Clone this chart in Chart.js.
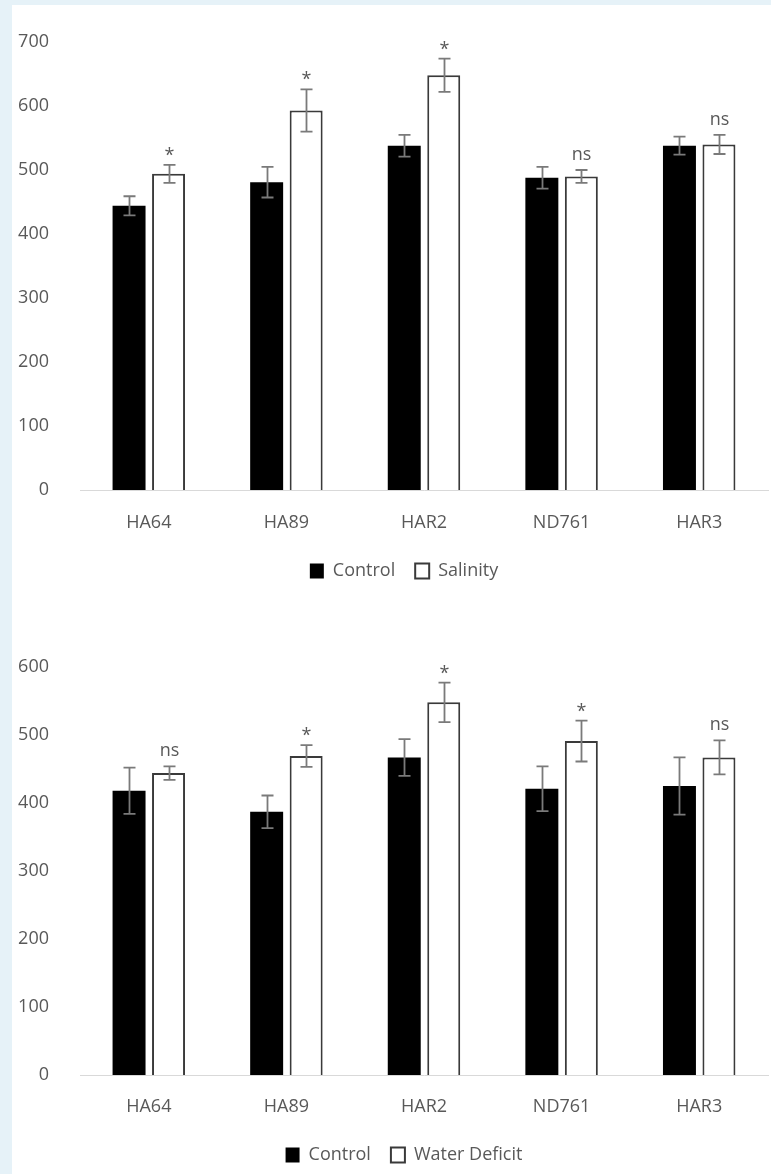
<!DOCTYPE html>
<html>
<head>
<meta charset="utf-8">
<script src="https://cdn.jsdelivr.net/npm/chart.js@4.4.0/dist/chart.umd.min.js"></script>
<style>
  html, body { margin: 0; padding: 0; background: #e6f2f8; }
  body { width: 771px; height: 1174px; position: relative; overflow: hidden; }
  #panel { position: absolute; left: 12px; top: 5px; width: 759px; height: 1169px; background: #ffffff; }
  .box { position: absolute; left: 12px; width: 759px; }
  #box1 { top: 5px; height: 585px; }
  #box2 { top: 595px; height: 579px; }
  canvas { display: block; }
</style>
</head>
<body>
<div id="panel"></div>
<div class="box" id="box1"><canvas id="chartSalinity" width="759" height="585"></canvas></div>
<div class="box" id="box2"><canvas id="chartDeficit" width="759" height="579"></canvas></div>
<script>
// Genotypes on the x axis
const categories = ['HA64', 'HA89', 'HAR2', 'ND761', 'HAR3'];

// Salinity experiment
const controlSalinity = [444, 481, 538, 488, 538];
const controlSalinityErr = [15, 24, 17, 17, 14];
const salinity = [494, 593, 648, 490, 540];
const salinityErr = [14, 33, 26, 10, 15];
const salinitySig = ['*', '*', '*', 'ns', 'ns'];

// Water deficit experiment
const controlDeficit = [418, 387, 467, 421, 425];
const controlDeficitErr = [34, 24, 27, 33, 42];
const waterDeficit = [444, 469, 548, 491, 467];
const waterDeficitErr = [10, 16, 29, 30, 25];
const waterDeficitSig = ['ns', '*', '*', '*', 'ns'];

// Value axes
const yMaxSalinity = 700;
const yMaxDeficit = 600;
const yStep = 100;

const FONT = "'Open Sans', 'Noto Sans', sans-serif";
const TEXT = '#595959';

// Draws +/- error whiskers and the significance mark above each bar
const errorBars = {
  id: 'errorBars',
  afterDatasetsDraw(chart, args, opts) {
    const ctx = chart.ctx;
    const yScale = chart.scales.y;
    chart.data.datasets.forEach((ds, di) => {
      if (!ds.errors) return;
      const meta = chart.getDatasetMeta(di);
      meta.data.forEach((bar, i) => {
        const v = ds.data[i];
        const e = ds.errors[i];
        const top = yScale.getPixelForValue(v + e);
        const bot = yScale.getPixelForValue(v - e);
        const x = Math.round(bar.x) + 0.5;
        ctx.save();
        ctx.strokeStyle = opts.color;
        ctx.lineWidth = opts.width;
        ctx.beginPath();
        ctx.moveTo(x, top); ctx.lineTo(x, bot);
        ctx.moveTo(x - opts.cap, top); ctx.lineTo(x + opts.cap, top);
        ctx.moveTo(x - opts.cap, bot); ctx.lineTo(x + opts.cap, bot);
        ctx.stroke();
        if (ds.marks && ds.marks[i]) {
          const mark = ds.marks[i];
          ctx.fillStyle = TEXT;
          ctx.font = '18px ' + FONT;
          ctx.textAlign = 'center';
          ctx.textBaseline = 'alphabetic';
          ctx.fillText(mark, x, top - (mark === '*' ? 4 : 10));
        }
        ctx.restore();
      });
    });
  }
};

// Nudges the legend row sideways
const legendShift = {
  id: 'legendShift',
  afterLayout(chart, args, opts) {
    const lg = chart.legend;
    if (lg) { lg.left += opts.dx; lg.right += opts.dx; }
  }
};

function makeChart(id, control, controlErr, treated, treatedErr, treatedSig, treatedName, yMax, padTop, xHeight, xPad) {
  return new Chart(document.getElementById(id), {
    type: 'bar',
    data: {
      labels: categories,
      datasets: [
        { label: 'Control', data: control, errors: controlErr,
          backgroundColor: '#000000', borderColor: '#000000', borderWidth: 0 },
        { label: treatedName, data: treated, errors: treatedErr, marks: treatedSig,
          backgroundColor: '#ffffff', borderColor: '#3a3a3a', borderWidth: 2 }
      ]
    },
    options: {
      responsive: false,
      animation: false,
      devicePixelRatio: 1,
      categoryPercentage: 0.574,
      barPercentage: 0.835,
      layout: { padding: { top: padTop, right: 3, bottom: 0, left: 0 } },
      plugins: {
        legend: {
          position: 'bottom',
          labels: { font: { family: FONT, size: 18 }, color: TEXT, boxWidth: 14, boxHeight: 15, padding: 20 }
        },
        tooltip: { enabled: false },
        errorBars: { color: '#7a7a7a', width: 1.8, cap: 6 },
        legendShift: { dx: 14 }
      },
      scales: {
        x: {
          grid: { display: false },
          border: { display: true, color: '#d9d9d9', width: 1 },
          ticks: { font: { family: FONT, size: 18 }, color: TEXT, padding: xPad, maxRotation: 0 },
          afterFit(s) { s.height = xHeight; }
        },
        y: {
          min: 0, max: yMax,
          grid: { display: false },
          border: { display: false },
          ticks: { stepSize: yStep, font: { family: FONT, size: 18 }, color: TEXT, padding: 23 },
          afterFit(s) { s.width = 68; }
        }
      }
    },
    plugins: [errorBars, legendShift]
  });
}

makeChart('chartSalinity', controlSalinity, controlSalinityErr, salinity, salinityErr, salinitySig,
  'Salinity', yMaxSalinity, 37, 52, 14);
makeChart('chartDeficit', controlDeficit, controlDeficitErr, waterDeficit, waterDeficitErr, waterDeficitSig,
  'Water Deficit', yMaxDeficit, 72, 51, 13);
</script>
</body>
</html>
